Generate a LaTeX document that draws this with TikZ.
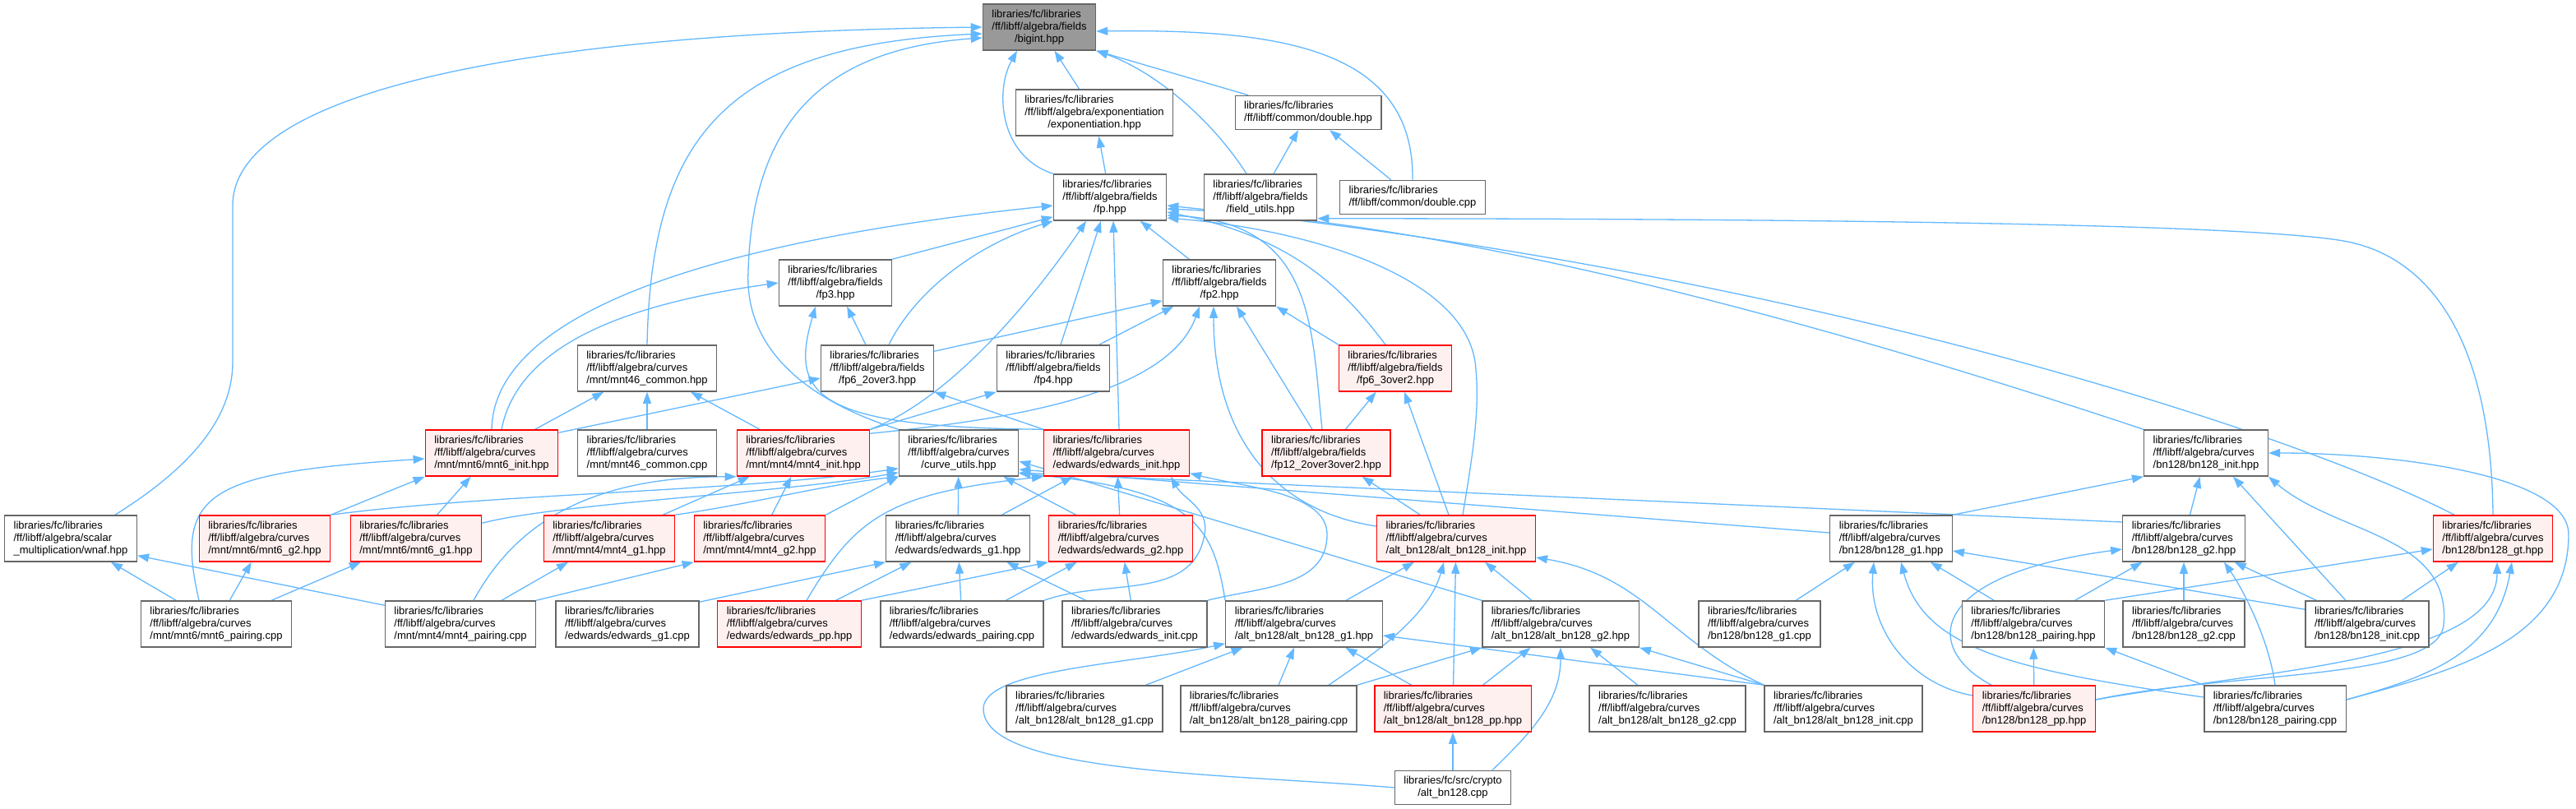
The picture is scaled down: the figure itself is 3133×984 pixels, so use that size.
\documentclass[tikz,border=0pt]{standalone}
\usepackage{fontspec}
\setmainfont{Liberation Sans}
\usepackage{tikz}
\usetikzlibrary{arrows.meta,backgrounds}

\definecolor{edgeblue}{HTML}{63B8FF}
\definecolor{boxgray}{HTML}{666666}
\definecolor{rootgray}{HTML}{999999}
\definecolor{redfill}{HTML}{FFF0F0}

\begin{document}
\begin{tikzpicture}[
    x=1pt, y=-1pt,
    box/.style={rectangle, draw=boxgray, fill=white, line width=1.4pt, align=left, inner xsep=11pt, inner ysep=7pt, font=\fontsize{13}{15}\selectfont},
    redbox/.style={box, draw=red, fill=redfill},
    rootbox/.style={box, fill=rootgray},
    arrow/.style={-{Triangle[length=14pt,width=10pt]}, draw=edgeblue, line width=1.3pt}
]
\useasboundingbox (0,0) rectangle (3133,984);

% Root and fields
\node[rootbox] (bigint) at (1264,33) {libraries/fc/libraries\\/ff/libff/algebra/fields\\\hspace*{\fill}/bigint.hpp\hspace*{\fill}};
\node[box] (expo) at (1331,137) {libraries/fc/libraries\\/ff/libff/algebra/exponentiation\\\hspace*{\fill}/exponentiation.hpp\hspace*{\fill}};
\node[box] (dblhpp) at (1591,137) {libraries/fc/libraries\\/ff/libff/common/double.hpp};
\node[box] (fp) at (1350,240) {libraries/fc/libraries\\/ff/libff/algebra/fields\\\hspace*{\fill}/fp.hpp\hspace*{\fill}};
\node[box] (fldutils) at (1533,240) {libraries/fc/libraries\\/ff/libff/algebra/fields\\\hspace*{\fill}/field\_utils.hpp\hspace*{\fill}};
\node[box] (dblcpp) at (1718,240) {libraries/fc/libraries\\/ff/libff/common/double.cpp};
\node[box] (fpthree) at (1016,344) {libraries/fc/libraries\\/ff/libff/algebra/fields\\\hspace*{\fill}/fp3.hpp\hspace*{\fill}};
\node[box] (fptwo) at (1483,344) {libraries/fc/libraries\\/ff/libff/algebra/fields\\\hspace*{\fill}/fp2.hpp\hspace*{\fill}};
\node[box] (mntcomhpp) at (787,448) {libraries/fc/libraries\\/ff/libff/algebra/curves\\/mnt/mnt46\_common.hpp};
\node[box] (fpsixtwo) at (1067,448) {libraries/fc/libraries\\/ff/libff/algebra/fields\\\hspace*{\fill}/fp6\_2over3.hpp\hspace*{\fill}};
\node[box] (fpfour) at (1281,448) {libraries/fc/libraries\\/ff/libff/algebra/fields\\\hspace*{\fill}/fp4.hpp\hspace*{\fill}};
\node[redbox] (fpsixthree) at (1697,448) {libraries/fc/libraries\\/ff/libff/algebra/fields\\\hspace*{\fill}/fp6\_3over2.hpp\hspace*{\fill}};

% Curve headers
\node[redbox] (mntsixinit) at (598,551) {libraries/fc/libraries\\/ff/libff/algebra/curves\\/mnt/mnt6/mnt6\_init.hpp};
\node[box] (mntcomcpp) at (787,551) {libraries/fc/libraries\\/ff/libff/algebra/curves\\/mnt/mnt46\_common.cpp};
\node[redbox] (mntfourinit) at (977,551) {libraries/fc/libraries\\/ff/libff/algebra/curves\\/mnt/mnt4/mnt4\_init.hpp};
\node[box] (curveutils) at (1166,551) {libraries/fc/libraries\\/ff/libff/algebra/curves\\\hspace*{\fill}/curve\_utils.hpp\hspace*{\fill}};
\node[redbox] (edinit) at (1358,551) {libraries/fc/libraries\\/ff/libff/algebra/curves\\/edwards/edwards\_init.hpp};
\node[redbox] (fptwelve) at (1613,551) {libraries/fc/libraries\\/ff/libff/algebra/fields\\/fp12\_2over3over2.hpp};
\node[box] (bninit) at (2683,551) {libraries/fc/libraries\\/ff/libff/algebra/curves\\/bn128/bn128\_init.hpp};

\node[box] (wnaf) at (86,655) {libraries/fc/libraries\\/ff/libff/algebra/scalar\\\_multiplication/wnaf.hpp};
\node[redbox] (mntsixgtwo) at (322,655) {libraries/fc/libraries\\/ff/libff/algebra/curves\\/mnt/mnt6/mnt6\_g2.hpp};
\node[redbox] (mntsixgone) at (506,655) {libraries/fc/libraries\\/ff/libff/algebra/curves\\/mnt/mnt6/mnt6\_g1.hpp};
\node[redbox] (mntfourgone) at (741,655) {libraries/fc/libraries\\/ff/libff/algebra/curves\\/mnt/mnt4/mnt4\_g1.hpp};
\node[redbox] (mntfourgtwo) at (924,655) {libraries/fc/libraries\\/ff/libff/algebra/curves\\/mnt/mnt4/mnt4\_g2.hpp};
\node[box] (edgone) at (1165,655) {libraries/fc/libraries\\/ff/libff/algebra/curves\\/edwards/edwards\_g1.hpp};
\node[redbox] (edgtwo) at (1363,655) {libraries/fc/libraries\\/ff/libff/algebra/curves\\/edwards/edwards\_g2.hpp};
\node[redbox] (altinit) at (1771,655) {libraries/fc/libraries\\/ff/libff/algebra/curves\\/alt\_bn128/alt\_bn128\_init.hpp};
\node[box] (bngone) at (2300,655) {libraries/fc/libraries\\/ff/libff/algebra/curves\\/bn128/bn128\_g1.hpp};
\node[box] (bngtwo) at (2656,655) {libraries/fc/libraries\\/ff/libff/algebra/curves\\/bn128/bn128\_g2.hpp};
\node[redbox] (bngt) at (3032,655) {libraries/fc/libraries\\/ff/libff/algebra/curves\\/bn128/bn128\_gt.hpp};

% Sources and pp headers
\node[box] (mntsixpair) at (263,759) {libraries/fc/libraries\\/ff/libff/algebra/curves\\/mnt/mnt6/mnt6\_pairing.cpp};
\node[box] (mntfourpair) at (560,759) {libraries/fc/libraries\\/ff/libff/algebra/curves\\/mnt/mnt4/mnt4\_pairing.cpp};
\node[box] (edgonecpp) at (763,759) {libraries/fc/libraries\\/ff/libff/algebra/curves\\/edwards/edwards\_g1.cpp};
\node[redbox] (edpp) at (960,759) {libraries/fc/libraries\\/ff/libff/algebra/curves\\/edwards/edwards\_pp.hpp};
\node[box] (edpair) at (1170,759) {libraries/fc/libraries\\/ff/libff/algebra/curves\\/edwards/edwards\_pairing.cpp};
\node[box] (edinitcpp) at (1380,759) {libraries/fc/libraries\\/ff/libff/algebra/curves\\/edwards/edwards\_init.cpp};
\node[box] (altgone) at (1586,759) {libraries/fc/libraries\\/ff/libff/algebra/curves\\/alt\_bn128/alt\_bn128\_g1.hpp};
\node[box] (altgtwo) at (1898,759) {libraries/fc/libraries\\/ff/libff/algebra/curves\\/alt\_bn128/alt\_bn128\_g2.hpp};
\node[box] (bngonecpp) at (2140,759) {libraries/fc/libraries\\/ff/libff/algebra/curves\\/bn128/bn128\_g1.cpp};
\node[box] (bnpairhpp) at (2473,759) {libraries/fc/libraries\\/ff/libff/algebra/curves\\/bn128/bn128\_pairing.hpp};
\node[box] (bngtwocpp) at (2656,759) {libraries/fc/libraries\\/ff/libff/algebra/curves\\/bn128/bn128\_g2.cpp};
\node[box] (bninitcpp) at (2879,759) {libraries/fc/libraries\\/ff/libff/algebra/curves\\/bn128/bn128\_init.cpp};

\node[box] (altgonecpp) at (1319,862) {libraries/fc/libraries\\/ff/libff/algebra/curves\\/alt\_bn128/alt\_bn128\_g1.cpp};
\node[box] (altpair) at (1543,862) {libraries/fc/libraries\\/ff/libff/algebra/curves\\/alt\_bn128/alt\_bn128\_pairing.cpp};
\node[redbox] (altpp) at (1767,862) {libraries/fc/libraries\\/ff/libff/algebra/curves\\/alt\_bn128/alt\_bn128\_pp.hpp};
\node[box] (altgtwocpp) at (2028,862) {libraries/fc/libraries\\/ff/libff/algebra/curves\\/alt\_bn128/alt\_bn128\_g2.cpp};
\node[box] (altinitcpp) at (2242,862) {libraries/fc/libraries\\/ff/libff/algebra/curves\\/alt\_bn128/alt\_bn128\_init.cpp};
\node[redbox] (bnpp) at (2474,862) {libraries/fc/libraries\\/ff/libff/algebra/curves\\/bn128/bn128\_pp.hpp};
\node[box] (bnpaircpp) at (2767,862) {libraries/fc/libraries\\/ff/libff/algebra/curves\\/bn128/bn128\_pairing.cpp};

\node[box] (altcpp) at (1767,958) {libraries/fc/src/crypto\\\hspace*{\fill}/alt\_bn128.cpp\hspace*{\fill}};

\begin{scope}[on background layer]
\fill[white] (0,0) rectangle (3133,984);

% Into bigint
\draw[arrow] ([xshift=54pt]wnaf.north) .. controls (230,570) and (283,510) .. (283,440) -- (283,250) .. controls (283,120) and (600,40) .. (bigint.west);
\draw[arrow] (mntcomhpp.north) .. controls (792,170) and (880,55) .. ([yshift=-8pt]bigint.west);
\draw[arrow] (curveutils.north west) .. controls (990,490) and (905,430) .. (910,330) .. controls (915,150) and (1000,60) .. ([yshift=-13pt]bigint.west);
\draw[arrow] (fp.north west) .. controls (1215,190) and (1210,110) .. ([xshift=-27pt]bigint.south);
\draw[arrow] (expo) -- (bigint);
\draw[arrow] ([xshift=-17pt]fldutils.north) .. controls (1470,140) and (1400,85) .. (bigint.south east);
\draw[arrow] (dblhpp) -- (bigint.south east);
\draw[arrow] (dblcpp.north) .. controls (1720,60) and (1560,35) .. ([yshift=-5pt]bigint.east);

% Exponentiation, double, field utils
\draw[arrow] (fp) -- (expo);
\draw[arrow] (fldutils) -- (dblhpp);
\draw[arrow] (dblcpp) -- (dblhpp);
\draw[arrow] (bngt.north) .. controls (3030,420) and (2960,318) .. (2860,295) .. controls (2760,272) and (2200,266) .. ([yshift=3pt]fldutils.south east);

% Into fp
\draw[arrow] (fpthree.north east) -- ([yshift=5pt]fp.south west);
\draw[arrow] (fptwo) -- (fp);
\draw[arrow] (mntsixinit.north) .. controls (600,400) and (800,300) .. ([yshift=-10pt]fp.west);
\draw[arrow] ([xshift=14pt]fpsixtwo.north) .. controls (1110,360) and (1180,300) .. (fp.south west);
\draw[arrow] (mntfourinit.north east) .. controls (1170,480) and (1280,330) .. ([xshift=-29pt]fp.south);
\draw[arrow] ([xshift=9pt]fpfour.north) -- ([xshift=-11pt]fp.south);
\draw[arrow] ([xshift=3pt]edinit.north) -- ([xshift=4pt]fp.south);
\draw[arrow] ([xshift=-12pt]fpsixthree.north) .. controls (1640,360) and (1580,290) .. ([yshift=-18pt]fp.east);
\draw[arrow] ([xshift=-5pt]fptwelve.north) .. controls (1595,400) and (1600,270) .. ([yshift=-22pt]fp.east);
\draw[arrow] ([xshift=8pt]altinit.north) .. controls (1790,560) and (1800,500) .. (1795,450) .. controls (1790,340) and (1600,280) .. ([yshift=-25pt]fp.east);
\draw[arrow] (bninit.north west) .. controls (2300,420) and (1800,270) .. ([yshift=-14pt]fp.east);
\draw[arrow] ([xshift=-47pt]bngt.north) .. controls (2800,530) and (2200,330) .. ([yshift=-10pt]fp.east);

% Into fp3 and fp2
\draw[arrow] ([xshift=12pt]mntsixinit.north) .. controls (630,420) and (760,370) .. (fpthree.west);
\draw[arrow] (fpsixtwo) -- (fpthree);
\draw[arrow] (edinit.north west) .. controls (990,520) and (960,480) .. ([xshift=-24pt]fpthree.south);
\draw[arrow] ([yshift=-8pt]fpsixtwo.north east) -- ([yshift=7pt]fptwo.south west);
\draw[arrow] (fpfour) -- (fptwo);
\draw[arrow] ([yshift=-5pt]mntfourinit.north east) .. controls (1230,510) and (1420,480) .. ([xshift=-24pt]fptwo.south);
\draw[arrow] ([yshift=15pt]altinit.west) .. controls (1540,620) and (1476,520) .. ([xshift=-7pt]fptwo.south);
\draw[arrow] ([xshift=-17pt]fptwelve.north) -- ([xshift=21pt]fptwo.south);
\draw[arrow] (fpsixthree.north west) -- (fptwo.south east);

% Middle layer
\draw[arrow] (mntsixinit) -- (mntcomhpp);
\draw[arrow] (mntfourinit) -- (mntcomhpp);
\draw[arrow] (mntcomcpp) -- (mntcomhpp);
\draw[arrow] ([yshift=-4pt]mntsixinit.north east) -- ([yshift=-12pt]fpsixtwo.west);
\draw[arrow] (edinit.north west) -- (fpsixtwo.south east);
\draw[arrow] (mntfourinit.north east) -- (fpfour.south west);
\draw[arrow] (fptwelve) -- (fpsixthree);
\draw[arrow] ([xshift=-9pt]altinit.north) -- ([xshift=11pt]fpsixthree.south);
\draw[arrow] (altinit) -- (fptwelve);

% MNT curves
\draw[arrow] (mntsixgtwo.north east) -- (mntsixinit.south west);
\draw[arrow] (mntsixgone) -- (mntsixinit);
\draw[arrow] ([xshift=-21pt]mntsixpair.north) .. controls (212,600) and (250,575) .. ([yshift=-7pt]mntsixinit.west);
\draw[arrow] (mntfourgone) -- (mntfourinit);
\draw[arrow] (mntfourgtwo) -- (mntfourinit);
\draw[arrow] ([xshift=16pt]mntfourpair.north) .. controls (620,650) and (700,580) .. (mntfourinit.south west);
\draw[arrow] (mntsixgtwo.north east) .. controls (600,600) and (900,598) .. ([yshift=10pt]curveutils.south west);
\draw[arrow] ([yshift=-10pt]mntsixgone.north east) .. controls (680,612) and (950,600) .. ([yshift=5pt]curveutils.south west);
\draw[arrow] (mntfourgone.north east) .. controls (920,612) and (1000,590) .. (curveutils.south west);
\draw[arrow] (mntfourgtwo.north east) -- (curveutils.south west);
\draw[arrow] (mntsixpair) -- (wnaf);
\draw[arrow] (mntsixpair) -- (mntsixgtwo);
\draw[arrow] (mntsixpair) -- (mntsixgone);
\draw[arrow] ([yshift=-6pt]mntfourpair.north west) -- ([yshift=8pt]wnaf.south east);
\draw[arrow] (mntfourpair) -- (mntfourgone);
\draw[arrow] (mntfourpair.north east) -- (mntfourgtwo.south west);

% Edwards curves
\draw[arrow] (edgone) -- (curveutils);
\draw[arrow] (edgone) -- (edinit);
\draw[arrow] (edgtwo) -- (curveutils);
\draw[arrow] (edgtwo) -- (edinit);
\draw[arrow] ([yshift=-2pt]edgonecpp.north east) -- (edgone.south west);
\draw[arrow] (edpp) -- (edgone);
\draw[arrow] (edpp.north east) -- (edgtwo.south west);
\draw[arrow] ([xshift=21pt]edpp.north) .. controls (1040,630) and (1080,600) .. (edinit.south west);
\draw[arrow] (edpair) -- (edgone);
\draw[arrow] (edpair) -- (edgtwo);
\draw[arrow] (edpair.north east) .. controls (1346,703) and (1451,732) .. (1465,650) .. controls (1471,618) and (1439,607) .. ([xshift=-23pt]edinit.south east);
\draw[arrow] (edinitcpp) -- (edgone);
\draw[arrow] (edinitcpp) -- (edgtwo);
\draw[arrow] (edinitcpp.north east) .. controls (1531,714) and (1614,715) .. (1614,650) .. controls (1614,600) and (1518,593) .. ([yshift=4pt]edinit.south east);

% alt_bn128 curves
\draw[arrow] (altgone.north west) .. controls (1475,640) and (1455,595) .. ([yshift=4pt]curveutils.south east);
\draw[arrow] (altgone) -- (altinit);
\draw[arrow] (altgtwo.north west) -- ([yshift=-10pt]curveutils.east);
\draw[arrow] (altgtwo) -- (altinit);
\draw[arrow] (altgonecpp) -- (altgone);
\draw[arrow] (altpair) -- (altgone);
\draw[arrow] (altpair.north east) -- (altgtwo.south west);
\draw[arrow] ([xshift=73pt]altpair.north) .. controls (1672,795) and (1738,749) .. ([xshift=-15pt]altinit.south);
\draw[arrow] (altpp) -- (altgone);
\draw[arrow] (altpp) -- (altgtwo);
\draw[arrow] (altpp) -- (altinit);
\draw[arrow] (altgtwocpp) -- (altgtwo);
\draw[arrow] (altinitcpp.north west) -- ([yshift=-14pt]altgone.east);
\draw[arrow] (altinitcpp.north west) -- (altgtwo.south east);
\draw[arrow] (altinitcpp.north west) .. controls (2030,780) and (2000,700) .. ([yshift=-23pt]altinit.east);
\draw[arrow] (altcpp) -- (altpp);
\draw[arrow] ([xshift=48pt]altcpp.north) .. controls (1862,891) and (1898,854) .. (altgtwo.south);
\draw[arrow] (altcpp.west) .. controls (1498,941) and (1196,942) .. (1196,862) .. controls (1196,814) and (1375,808) .. ([yshift=5pt]altgone.south west);

% bn128 curves
\draw[arrow] ([yshift=7pt]bngone.west) -- ([yshift=-20pt]curveutils.east);
\draw[arrow] (bngone.north east) -- (bninit.south west);
\draw[arrow] ([yshift=20pt]bngtwo.west) -- ([yshift=-24pt]curveutils.east);
\draw[arrow] (bngtwo) -- (bninit);
\draw[arrow] (bngonecpp) -- (bngone);
\draw[arrow] (bngtwocpp) -- (bngtwo);
\draw[arrow] (bnpairhpp) -- (bngone);
\draw[arrow] (bnpairhpp) -- (bngtwo);
\draw[arrow] (bnpairhpp.north east) -- ([yshift=-13pt]bngt.west);
\draw[arrow] (bnpp) -- (bnpairhpp);
\draw[arrow] ([yshift=16pt]bnpp.west) .. controls (2321,832) and (2272,763) .. ([xshift=-21pt]bngone.south);
\draw[arrow] ([xshift=-52pt]bnpp.north) .. controls (2340,790) and (2340,700) .. ([yshift=-13pt]bngtwo.west);
\draw[arrow] ([yshift=11pt]bnpp.east) .. controls (2746,816) and (3037,804) .. ([xshift=5pt]bngt.south);
\draw[arrow] ([yshift=11pt]bnpp.east) .. controls (2713,816) and (2966,828) .. (2972,760) .. controls (2982,650) and (2841,650) .. (bninit.south east);
\draw[arrow] (bnpaircpp.north west) -- (bnpairhpp.south east);
\draw[arrow] ([yshift=14pt]bnpaircpp.west) .. controls (2450,815) and (2340,790) .. ([xshift=12pt]bngone.south);
\draw[arrow] (bnpaircpp.north) .. controls (2760,780) and (2730,720) .. ([xshift=49pt]bngtwo.south);
\draw[arrow] ([yshift=11pt]bnpaircpp.east) .. controls (2959,822) and (3036,792) .. ([xshift=23pt]bngt.south);
\draw[arrow] ([yshift=11pt]bnpaircpp.east) .. controls (2979,817) and (3124,782) .. (3124,650) .. controls (3124,576) and (2905,551) .. (bninit.east);
\draw[arrow] (bninitcpp) -- ([xshift=33pt]bninit.south);
\draw[arrow] ([yshift=-11pt]bninitcpp.north west) -- ([yshift=-15pt]bngone.east);
\draw[arrow] (bninitcpp) -- (bngtwo);
\draw[arrow] (bninitcpp) -- (bngt);
\end{scope}

\end{tikzpicture}
\end{document}
